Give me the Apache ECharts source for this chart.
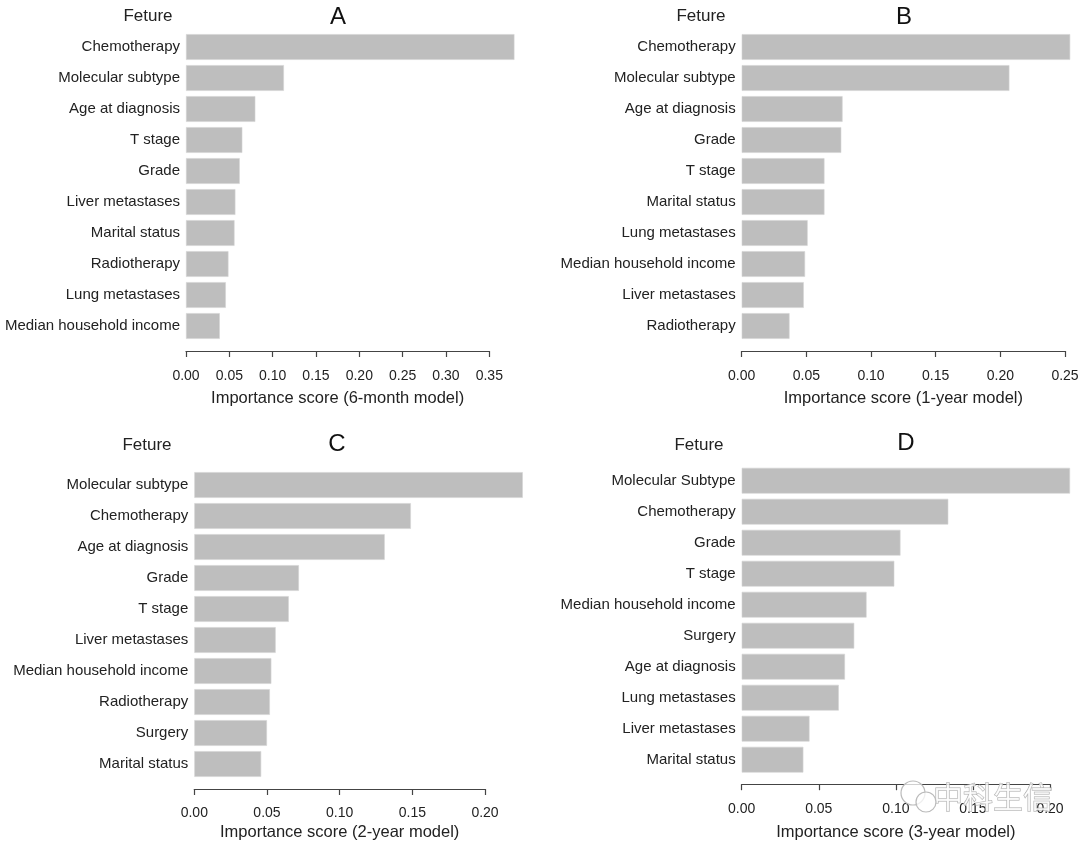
<!DOCTYPE html>
<html>
<head>
<meta charset="utf-8">
<script src="https://cdn.jsdelivr.net/npm/echarts@6/dist/echarts.min.js"></script>
<style>
html,body{margin:0;padding:0;background:#fff;}
#chart{width:1080px;height:845px;}
</style>
</head>
<body>
<div id="chart"></div>
<script>
// ---- data ----
const catsA = ['Chemotherapy','Molecular subtype','Age at diagnosis','T stage','Grade','Liver metastases','Marital status','Radiotherapy','Lung metastases','Median household income'];
const valsA = [0.379, 0.113, 0.080, 0.065, 0.062, 0.057, 0.056, 0.049, 0.046, 0.039];

const catsB = ['Chemotherapy','Molecular subtype','Age at diagnosis','Grade','T stage','Marital status','Lung metastases','Median household income','Liver metastases','Radiotherapy'];
const valsB = [0.254, 0.207, 0.078, 0.077, 0.064, 0.064, 0.051, 0.049, 0.048, 0.037];

const catsC = ['Molecular subtype','Chemotherapy','Age at diagnosis','Grade','T stage','Liver metastases','Median household income','Radiotherapy','Surgery','Marital status'];
const valsC = [0.226, 0.149, 0.131, 0.072, 0.065, 0.056, 0.053, 0.052, 0.050, 0.046];

const catsD = ['Molecular Subtype','Chemotherapy','Grade','T stage','Median household income','Surgery','Age at diagnosis','Lung metastases','Liver metastases','Marital status'];
const valsD = [0.213, 0.134, 0.103, 0.099, 0.081, 0.073, 0.067, 0.063, 0.044, 0.040];

const axisMaxA = 0.35, axisMaxB = 0.25, axisMaxC = 0.20, axisMaxD = 0.20;
const tickStep = 0.05;
const axisTitles = ['Importance score (6-month model)','Importance score (1-year model)','Importance score (2-year model)','Importance score (3-year model)'];
const panelLetters = ['A','B','C','D'];
const featureHeader = 'Feture';

// ---- layout ----
const FONT = 'Liberation Sans, Arial, Helvetica, sans-serif';
const panels = [
  {cats: catsA, vals: valsA, max: axisMaxA, grid: {left: 186, top: 31.5, width: 303.3, height: 310}, offset: 9.5, margin: 18, nameGap: 39},
  {cats: catsB, vals: valsB, max: axisMaxB, grid: {left: 741.7, top: 31.5, width: 323.3, height: 310}, offset: 9.5, margin: 18, nameGap: 39},
  {cats: catsC, vals: valsC, max: axisMaxC, grid: {left: 194.3, top: 469.5, width: 290.7, height: 310}, offset: 9.5, margin: 17, nameGap: 35},
  {cats: catsD, vals: valsD, max: axisMaxD, grid: {left: 741.7, top: 465.2, width: 308.3, height: 310}, offset: 9, margin: 18, nameGap: 40}
];

const grids = [], xAxes = [], yAxes = [], series = [];
panels.forEach((p, i) => {
  grids.push(Object.assign({outerBoundsMode: 'none', containLabel: false}, p.grid));
  xAxes.push({
    type: 'value', gridIndex: i, min: 0, max: p.max, interval: tickStep,
    offset: p.offset,
    splitLine: {show: false},
    axisLine: {show: true, lineStyle: {color: '#444', width: 1.2}},
    axisTick: {show: true, length: 6, lineStyle: {color: '#444', width: 1.2}},
    axisLabel: {fontFamily: FONT, fontSize: 14, color: '#222', margin: p.margin,
      formatter: v => v.toFixed(2), showMinLabel: true, showMaxLabel: true},
    name: axisTitles[i], nameLocation: 'middle', nameGap: p.nameGap,
    nameTextStyle: {fontFamily: FONT, fontSize: 16.5, color: '#222'}
  });
  yAxes.push({
    type: 'category', gridIndex: i, data: p.cats, inverse: true,
    axisLine: {show: false}, axisTick: {show: false}, splitLine: {show: false},
    axisLabel: {fontFamily: FONT, fontSize: 15, color: '#222', margin: 6}
  });
  series.push({
    type: 'bar', xAxisIndex: i, yAxisIndex: i, data: p.vals,
    barCategoryGap: '17%', clip: false, silent: true,
    itemStyle: {color: '#bebebe', borderColor: '#d4d4d4', borderWidth: 0.6}
  });
});

const headerPos = [[148, 16], [701, 16], [147, 445], [699, 445]];
const letterPos = [[338, 17], [904, 17], [337, 444], [906, 443]];
const graphics = [];
headerPos.forEach(pt => graphics.push({
  type: 'text', x: pt[0], y: pt[1],
  style: {text: featureHeader, font: '17px ' + FONT, fill: '#222', textAlign: 'center', textVerticalAlign: 'middle'}
}));
letterPos.forEach((pt, i) => graphics.push({
  type: 'text', x: pt[0], y: pt[1],
  style: {text: panelLetters[i], font: '24px ' + FONT, fill: '#111', textAlign: 'center', textVerticalAlign: 'middle'}
}));
// watermark
graphics.push({
  type: 'text', x: 993, y: 797, z: 100,
  style: {text: '中科生信', font: '30px "Noto Sans CJK SC"', fill: 'rgba(255,255,255,0.75)', stroke: '#aaa', lineWidth: 1,
    textAlign: 'center', textVerticalAlign: 'middle'}
});
graphics.push({
  type: 'circle', z: 100, shape: {cx: 913, cy: 793, r: 12},
  style: {fill: 'rgba(255,255,255,0.75)', stroke: '#bbb', lineWidth: 1.2}
});
graphics.push({
  type: 'circle', z: 100, shape: {cx: 926, cy: 802, r: 10},
  style: {fill: 'rgba(255,255,255,0.75)', stroke: '#bbb', lineWidth: 1.2}
});

const chart = echarts.init(document.getElementById('chart'), null, {renderer: 'canvas'});
chart.setOption({
  backgroundColor: '#ffffff',
  animation: false,
  grid: grids,
  xAxis: xAxes,
  yAxis: yAxes,
  series: series,
  graphic: graphics
});
</script>
</body>
</html>
